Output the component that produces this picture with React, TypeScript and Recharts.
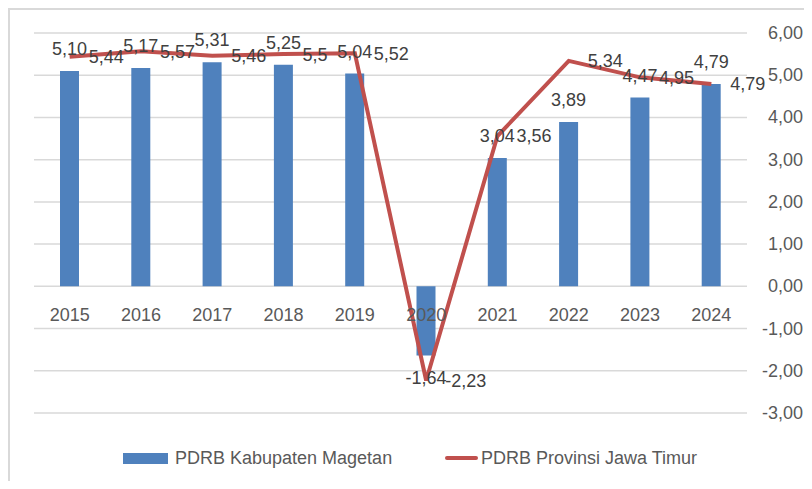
import { ComposedChart, Bar, Line, XAxis, YAxis, CartesianGrid, Legend, LabelList } from 'recharts';

const years = ['2015', '2016', '2017', '2018', '2019', '2020', '2021', '2022', '2023', '2024'];
const magetan = [5.10, 5.17, 5.31, 5.25, 5.04, -1.64, 3.04, 3.89, 4.47, 4.79];
const jatim = [5.44, 5.57, 5.46, 5.5, 5.52, -2.23, 3.56, 5.34, 4.95, 4.79];
const yTicks = [-3, -2, -1, 0, 1, 2, 3, 4, 5, 6];

const data = years.map((year, i) => ({ year, magetan: magetan[i], jatim: jatim[i] }));

const W = 812;
const H = 489;
const TOP = 33;
const PLOT_H = 380;
const Y_MIN = -3;
const Y_MAX = 6;
const ZERO_Y = TOP + (PLOT_H * Y_MAX) / (Y_MAX - Y_MIN);

const FONT = '"Liberation Sans", Arial, sans-serif';
const BLUE = '#4f81bd';
const RED = '#c0504d';

const fmt2 = (v: any) => Number(v).toFixed(2).replace('.', ',');
const fmtRaw = (v: any) => String(v).replace('.', ',');

const YearTick = ({ x, payload }: any) => (
    <text x={x} y={ZERO_Y + 35} textAnchor="middle" fill="#595959" fontSize={18} fontFamily={FONT}>
        {payload.value}
    </text>
);

const RightTick = ({ x, y, payload }: any) => (
    <text x={x + 48} y={y} dy={6} textAnchor="end" fill="#595959" fontSize={18} fontFamily={FONT}>
        {fmt2(payload.value)}
    </text>
);

const LegendBox = () => (
    <div style={{ position: 'relative', width: W, height: 30, fontFamily: FONT, fontSize: 18, color: '#595959' }}>
        <div style={{ position: 'absolute', left: 123, top: 9, width: 45, height: 11, background: BLUE }} />
        <div style={{ position: 'absolute', left: 175, top: 3, whiteSpace: 'nowrap', lineHeight: '22px' }}>PDRB Kabupaten Magetan</div>
        <div style={{ position: 'absolute', left: 445, top: 12, width: 33, height: 4, borderRadius: 2, background: RED }} />
        <div style={{ position: 'absolute', left: 481, top: 3, whiteSpace: 'nowrap', lineHeight: '22px' }}>PDRB Provinsi Jawa Timur</div>
    </div>
);

export default function App() {
    return (
        <div style={{ position: 'relative', margin: -8, width: W, height: H, background: '#fff' }}>
            <ComposedChart
                width={W}
                height={H}
                data={data}
                margin={{ top: TOP, right: 7, left: 34, bottom: 26 }}
            >
                <CartesianGrid vertical={false} stroke="#d9d9d9" strokeWidth={1.5} />
                <XAxis dataKey="year" axisLine={false} tickLine={false} height={20} tick={<YearTick />} interval={0} />
                <YAxis
                    orientation="right"
                    domain={[Y_MIN, Y_MAX]}
                    ticks={yTicks}
                    axisLine={false}
                    tickLine={false}
                    width={58}
                    tick={<RightTick />}
                />
                <Legend
                    verticalAlign="bottom"
                    wrapperStyle={{ left: 0, top: 444, width: W, height: 30 }}
                    content={() => <LegendBox />}
                />
                <Bar dataKey="magetan" name="PDRB Kabupaten Magetan" fill={BLUE} barSize={19} isAnimationActive={false}>
                    <LabelList dataKey="magetan" position="top" offset={16} formatter={fmt2} fill="#404040" fontSize={18} fontFamily={FONT} />
                </Bar>
                <Line
                    type="linear"
                    dataKey="jatim"
                    name="PDRB Provinsi Jawa Timur"
                    stroke={RED}
                    strokeWidth={4}
                    dot={false}
                    activeDot={false}
                    isAnimationActive={false}
                >
                    <LabelList dataKey="jatim" position="right" offset={19} formatter={fmtRaw} fill="#404040" fontSize={18} fontFamily={FONT} />
                </Line>
            </ComposedChart>
            <div style={{ position: 'absolute', left: 8, top: 8, width: W, height: H, borderLeft: '2px solid #d9d9d9', borderTop: '2px solid #d9d9d9', pointerEvents: 'none' }} />
        </div>
    );
}
